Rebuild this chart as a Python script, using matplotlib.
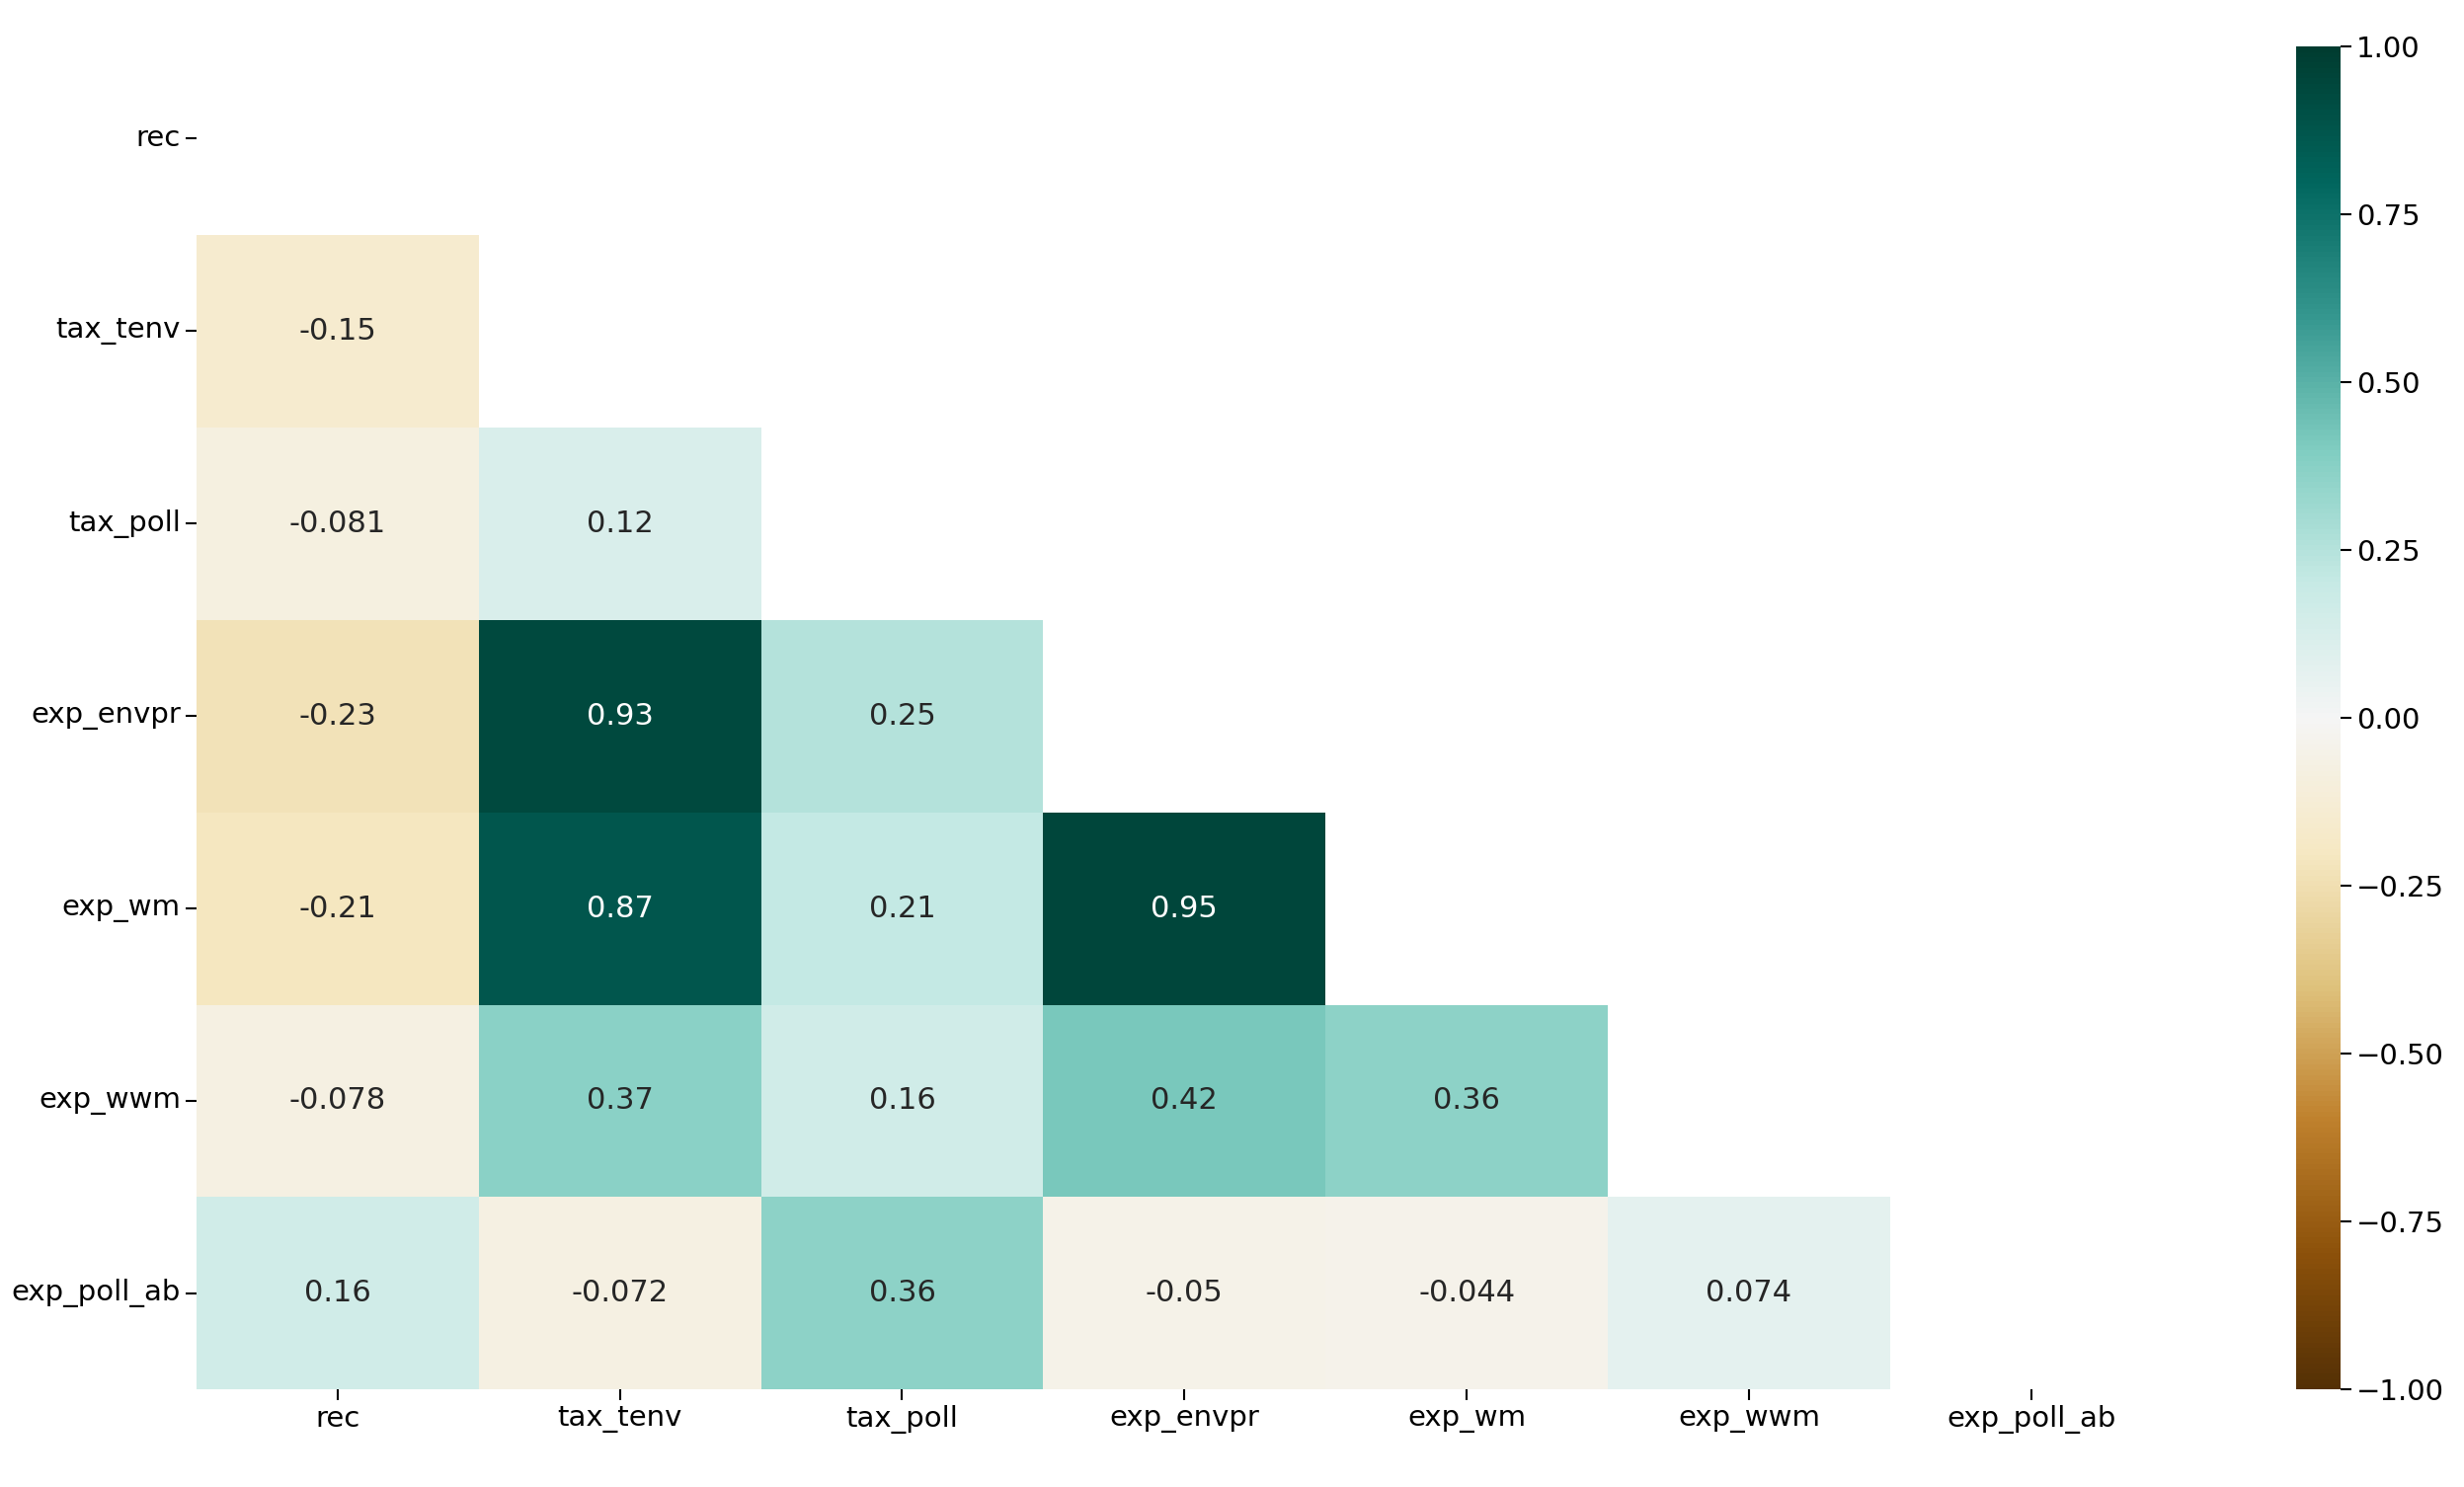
import numpy as np
import matplotlib
matplotlib.use("Agg")
import matplotlib.pyplot as plt
import seaborn as sns

labels = ["rec", "tax_tenv", "tax_poll", "exp_envpr", "exp_wm", "exp_wwm", "exp_poll_ab"]
lower_values = [
    [],
    [-0.15],
    [-0.081, 0.12],
    [-0.23, 0.93, 0.25],
    [-0.21, 0.87, 0.21, 0.95],
    [-0.078, 0.37, 0.16, 0.42, 0.36],
    [0.16, -0.072, 0.36, -0.05, -0.044, 0.074],
]

n = len(labels)
corr = np.eye(n)
for i, row in enumerate(lower_values):
    for j, v in enumerate(row):
        corr[i, j] = v
        corr[j, i] = v
mask = np.triu(np.ones((n, n), dtype=bool))

plt.rcParams['font.family'] = ['DejaVu Sans']
fig = plt.figure(figsize=(24.95, 15.06), dpi=100)
ax = fig.add_axes([0.0797, 0.0655, 0.802, 0.906])
cax = fig.add_axes([0.932, 0.0655, 0.018, 0.903])
sns.heatmap(corr, mask=mask, cmap="BrBG", vmin=-1, vmax=1, annot=True,
            xticklabels=labels, yticklabels=labels, ax=ax, cbar_ax=cax,
            annot_kws={"fontsize": 22})
ax.tick_params(labelsize=21, length=8, width=1.5)
ax.set_yticklabels(labels, rotation=0)
ax.set_xticklabels(labels, rotation=0)
cax.tick_params(labelsize=21, length=8, width=1.5)
cax.set_yticks([-1, -0.75, -0.5, -0.25, 0, 0.25, 0.5, 0.75, 1.0])
cax.set_yticklabels(["\u22121.00", "\u22120.75", "\u22120.50", "\u22120.25", "0.00", "0.25", "0.50", "0.75", "1.00"])
fig.savefig("out.png", dpi=100)
